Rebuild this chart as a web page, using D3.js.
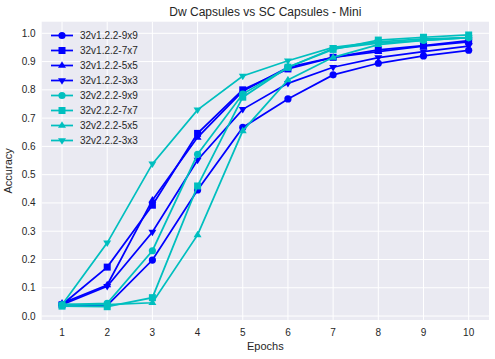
<!DOCTYPE html>
<html lang="en">
<head>
<meta charset="UTF-8">
<title>Dw Capsules vs SC Capsules - Mini</title>
<style>
  body { margin: 0; background: #fff; }
  text { font-family: "Liberation Sans", Arial, sans-serif; fill: #262626; }
  .grid line { stroke: #fff; stroke-width: 1; }
  .tick-label { font-size: 10px; }
</style>
</head>
<body>
<div id="chart"></div>
<script src="https://cdn.jsdelivr.net/npm/d3@7"></script>
<script>
var epochs = [1, 2, 3, 4, 5, 6, 7, 8, 9, 10];
var yTicks = [0.0, 0.1, 0.2, 0.3, 0.4, 0.5, 0.6, 0.7, 0.8, 0.9, 1.0];

var seriesNames = ["32v1.2.2-9x9", "32v1.2.2-7x7", "32v1.2.2-5x5", "32v1.2.2-3x3",
                   "32v2.2.2-9x9", "32v2.2.2-7x7", "32v2.2.2-5x5", "32v2.2.2-3x3"];

var v1_9x9 = [0.040, 0.038, 0.198, 0.446, 0.667, 0.768, 0.853, 0.894, 0.920, 0.940];
var v1_7x7 = [0.040, 0.173, 0.392, 0.646, 0.800, 0.874, 0.915, 0.941, 0.956, 0.974];
var v1_5x5 = [0.045, 0.110, 0.410, 0.632, 0.795, 0.880, 0.915, 0.935, 0.955, 0.970];
var v1_3x3 = [0.040, 0.105, 0.297, 0.552, 0.731, 0.823, 0.880, 0.914, 0.935, 0.955];
var v2_9x9 = [0.040, 0.045, 0.231, 0.572, 0.785, 0.880, 0.946, 0.965, 0.975, 0.985];
var v2_7x7 = [0.035, 0.033, 0.065, 0.460, 0.774, 0.880, 0.943, 0.976, 0.986, 0.994];
var v2_5x5 = [0.040, 0.040, 0.047, 0.287, 0.655, 0.835, 0.915, 0.960, 0.975, 0.985];
var v2_3x3 = [0.040, 0.259, 0.538, 0.729, 0.849, 0.903, 0.950, 0.970, 0.980, 0.985];

var seriesValues = [v1_9x9, v1_7x7, v1_5x5, v1_3x3, v2_9x9, v2_7x7, v2_5x5, v2_3x3];
var colors = ["#0000ff", "#0000ff", "#0000ff", "#0000ff", "#00bfbf", "#00bfbf", "#00bfbf", "#00bfbf"];
var markers = ["circle", "square", "up", "down", "circle", "square", "up", "down"];

var W = 495, H = 359;
var m = {top: 21.7, right: 6, bottom: 39, left: 41.7};

var svg = d3.select("#chart").append("svg")
  .attr("width", W).attr("height", H);

var x = d3.scaleLinear().domain([0.55, 10.45]).range([m.left, W - m.right]);
var y = d3.scaleLinear().domain([-0.014, 1.041]).range([H - m.bottom, m.top]);

svg.append("rect")
  .attr("x", x.range()[0]).attr("y", y.range()[1])
  .attr("width", x.range()[1] - x.range()[0])
  .attr("height", y.range()[0] - y.range()[1])
  .attr("fill", "#eaeaf2");

var grid = svg.append("g").attr("class", "grid");
epochs.forEach(function(e) {
  grid.append("line")
    .attr("x1", x(e)).attr("x2", x(e))
    .attr("y1", y.range()[0]).attr("y2", y.range()[1]);
});
yTicks.forEach(function(t) {
  grid.append("line")
    .attr("x1", x.range()[0]).attr("x2", x.range()[1])
    .attr("y1", y(t)).attr("y2", y(t));
});

// tick labels
epochs.forEach(function(e) {
  svg.append("text").attr("class", "tick-label")
    .attr("x", x(e)).attr("y", H - m.bottom + 16)
    .attr("text-anchor", "middle").text(e);
});
yTicks.forEach(function(t) {
  svg.append("text").attr("class", "tick-label")
    .attr("x", m.left - 6).attr("y", y(t) + 3.5)
    .attr("text-anchor", "end").text(t.toFixed(1));
});

svg.append("text")
  .attr("x", (x.range()[0] + x.range()[1]) / 2).attr("y", 350)
  .attr("text-anchor", "middle").attr("font-size", "11px").text("Epochs");
svg.append("text")
  .attr("transform", "translate(12," + ((y.range()[0] + y.range()[1]) / 2) + ") rotate(-90)")
  .attr("text-anchor", "middle").attr("font-size", "11px").text("Accuracy");
svg.append("text")
  .attr("x", (x.range()[0] + x.range()[1]) / 2).attr("y", 16)
  .attr("text-anchor", "middle").attr("font-size", "12px").text("Dw Capsules vs SC Capsules - Mini");

function drawMarker(g, kind, cx, cy, color) {
  if (kind === "circle") {
    g.append("circle").attr("cx", cx).attr("cy", cy).attr("r", 3.6).attr("fill", color);
  } else if (kind === "square") {
    g.append("rect").attr("x", cx - 3.5).attr("y", cy - 3.5)
      .attr("width", 7).attr("height", 7).attr("fill", color);
  } else {
    var s = kind === "up" ? -1 : 1;
    var r = 4.2;
    g.append("path")
      .attr("d", "M" + cx + "," + (cy + s * r) +
                 "L" + (cx - r * 0.95) + "," + (cy - s * r * 0.55) +
                 "L" + (cx + r * 0.95) + "," + (cy - s * r * 0.55) + "Z")
      .attr("fill", color);
  }
}

var line = d3.line().x(function(d, i) { return x(epochs[i]); }).y(function(d) { return y(d); });

seriesValues.forEach(function(vals, k) {
  var g = svg.append("g");
  g.append("path").datum(vals)
    .attr("d", line).attr("fill", "none")
    .attr("stroke", colors[k]).attr("stroke-width", 1.75);
  vals.forEach(function(v, i) {
    drawMarker(g, markers[k], x(epochs[i]), y(v), colors[k]);
  });
});

// legend
var lg = svg.append("g");
seriesNames.forEach(function(name, k) {
  var ly = 35.5 + k * 15;
  lg.append("line").attr("x1", 51).attr("x2", 73).attr("y1", ly).attr("y2", ly)
    .attr("stroke", colors[k]).attr("stroke-width", 1.75);
  drawMarker(lg, markers[k], 62, ly, colors[k]);
  lg.append("text").attr("x", 80).attr("y", ly + 3.5)
    .attr("font-size", "10px").text(name);
});
</script>
</body>
</html>
